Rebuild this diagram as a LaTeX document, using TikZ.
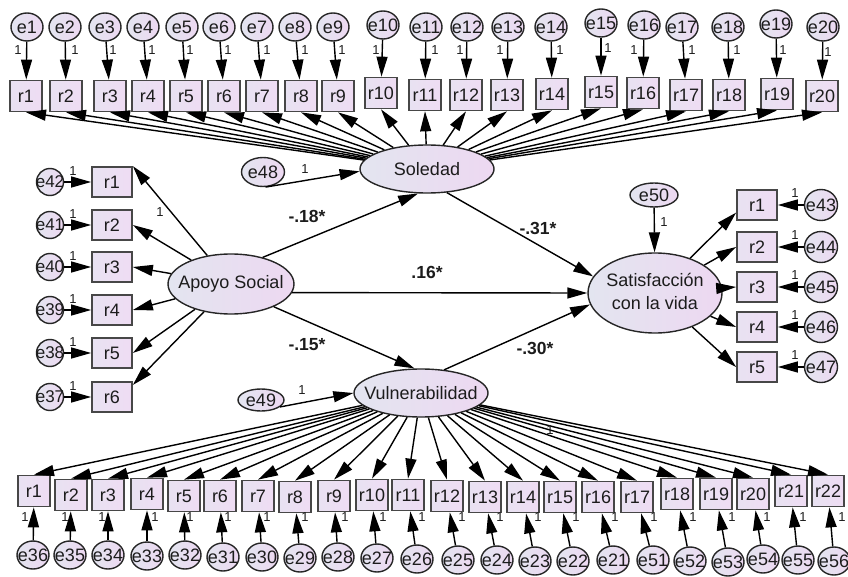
\documentclass[tikz,border=0pt]{standalone}
\usepackage{fontspec}
\setmainfont{Liberation Sans}
\usetikzlibrary{arrows.meta,shapes.geometric}
\definecolor{shL}{HTML}{E3E5F0}
\definecolor{shR}{HTML}{EDD8F1}
\definecolor{bxL}{HTML}{E8E2F2}
\definecolor{bxR}{HTML}{EFDCF3}
\definecolor{edgec}{HTML}{262626}
\definecolor{txtc}{HTML}{1C1C1C}
\begin{document}
\begin{tikzpicture}[x=1pt,y=-1pt,
  lat/.style={ellipse, draw=edgec, line width=1.4pt, left color=shL, right color=shR, inner sep=0pt, minimum width=134pt, minimum height=48pt, font=\fontsize{18}{23}\selectfont, text=txtc},
  obs/.style={rectangle, draw=edgec!85, line width=1.7pt, left color=bxL, right color=bxR, minimum width=32pt, minimum height=31pt, inner sep=0pt, font=\fontsize{18}{21}\selectfont, text=txtc},
  obsw/.style={obs, minimum width=40pt, minimum height=30pt},
  err/.style={ellipse, draw=edgec, line width=1.4pt, left color=shL, right color=shR, minimum width=32pt, minimum height=28pt, inner sep=0pt, font=\fontsize{18}{21}\selectfont, text=txtc},
  errs/.style={err, minimum width=27pt, minimum height=27pt, font=\fontsize{17}{20}\selectfont},
  erre/.style={ellipse, draw=edgec, line width=1.4pt, left color=shL, right color=shR, inner sep=0pt, font=\fontsize{18}{21}\selectfont, text=txtc},
  pth/.style={line width=1.4pt, draw=black, -{Triangle[length=20pt,width=11pt]}},
  one/.style={font=\fontsize{13}{14}\selectfont, text=txtc, inner sep=0pt},
  coef/.style={font=\bfseries\fontsize{17.5}{20}\selectfont, text=txtc, inner sep=0pt}
]
\useasboundingbox (0,0) rectangle (848,577);

% latent variables
\node[lat] (sol) at (427,169) {\makebox[0pt]{Soledad}};
\node[lat, minimum width=126pt, minimum height=60pt] (ap) at (231,284) {\makebox[0pt]{Apoyo Social}};
\node[lat] (vul) at (421,393) {\makebox[0pt]{Vulnerabilidad}};
\node[lat, minimum height=80pt] (sat) at (655,293) {\makebox[0pt]{\begin{tabular}{@{}c@{}}Satisfacción\\con la vida\end{tabular}}};

% disturbances
\node[erre, minimum width=43pt, minimum height=29pt] (e48) at (263,172) {\makebox[0pt]{e48}};
\node[erre, minimum width=46pt, minimum height=22pt] (e49) at (261,400) {\makebox[0pt]{e49}};
\node[erre, minimum width=48pt, minimum height=24pt] (e50) at (654,195) {\makebox[0pt]{e50}};

\draw[pth] (e48.-80) -- (sol.182);
\node[one] (l48) at (305,169) {1};
\draw[pth] (e49.-20) -- (vul.west);
\node[one] (l49) at (302,390) {1};
\draw[pth] (e50) -- (sat);
\node[one] (l50) at (664,222) {1};

% structural paths
\draw[pth] (ap.40) -- (sol.250);
\node[coef] (c1) at (307,216) {-.18*};
\draw[pth] (ap.-8) -- (sat.180);
\node[coef] (c2) at (427,272) {.16*};
\draw[pth] (ap.-28) -- (vul.105);
\node[coef] (c3) at (307,345) {-.15*};
\draw[pth] (sol.-50) -- (sat.165);
\node[coef] (c4) at (538,228) {-.31*};
\draw[pth] (vul.45) -- (sat.190);
\node[coef] (c5) at (535,348) {-.30*};

% top row: Soledad indicators
\foreach \i/\x/\y/\ex/\ey/\lx/\ly in {
  1/26/96/27/27/18/50, 2/66/96/65/27/75/50, 3/110/96/105/27/113/50,
  4/148/96/143/27/152/50, 5/186/96/182/27/190/50, 6/224/96/219/27/228/50,
  7/262/96/257/27/267/50, 8/301/96/295/27/305/50, 9/338/96/333/27/342/50,
  10/381/93/383/25/376/50, 11/425/95/426/27/435/50, 12/466/95/467/27/460/50,
  13/507/95/508/27/500/50, 14/552/94/551/27/560/50, 15/601/92/601/23/608/48,
  16/643/93/644/25/634/50, 17/686/95/682/27/692/50, 18/729/95/728/27/737/50,
  19/777/94/776/24/783/50, 20/822/96/823/27/828/52}{
  \node[obs] (t\i) at (\x,\y) {r\i};
  \node[err] (te\i) at (\ex,\ey) {\makebox[0pt]{e\i}};
  \draw[pth] (te\i) -- (t\i);
  \node[one] (tl\i) at (\lx,\ly) {1};
  \draw[pth] (sol) -- (t\i.south);
}

% left: Apoyo Social indicators
\foreach \i/\y/\en in {1/182/42, 2/225/41, 3/267/40, 4/310/39, 5/353/38, 6/397/37}{
  \node[obsw] (a\i) at (112,\y) {r\i};
  \node[errs] (ae\i) at (50,\y) {\makebox[0pt]{e\en}};
  \draw[pth] (ae\i) -- (a\i);
  \node[one] (al\i) at (73,\y-11) {1};
}
\draw[pth] (ap) -- (a1.north east);
\draw[pth] (ap) -- (a2.east);
\draw[pth] (ap) -- (a3.east);
\draw[pth] (ap) -- (a4.east);
\draw[pth] (ap) -- (a5.east);
\draw[pth] (ap) -- (a6.30);
\node[one] (la1) at (160,212) {1};

% right: Satisfaccion indicators
\foreach \i/\y/\en in {1/205/43, 2/247/44, 3/287/45, 4/327/46, 5/367/47}{
  \node[obsw] (s\i) at (757,\y) {r\i};
  \node[err, minimum width=33pt, minimum height=31pt] (se\i) at (821,\y) {\makebox[0pt]{e\en}};
  \draw[pth] (se\i) -- (s\i);
  \node[one] (sl\i) at (795,\y-12) {1};
}
\draw[pth] (sat) -- (s1.200);
\draw[pth] (sat) -- (s2.west);
\draw[pth] (sat) -- (s3.west);
\draw[pth] (sat) -- (s4.west);
\draw[pth] (sat) -- (s5.west);

% bottom row: Vulnerabilidad indicators
\foreach \i/\x/\y/\ex/\ey/\en/\lx in {
  1/34/491/33/555/36/25, 2/71/495/70/555/35/65, 3/108/495/108/555/34/102,
  4/147/494/147/556/33/155, 5/184/496/185/555/32/190, 6/220/496/223/557/31/228,
  7/258/496/262/557/30/267, 8/295/497/300/558/29/305, 9/334/496/338/557/28/345,
  10/372/495/377/558/27/383, 11/408/495/417/559/26/422, 12/447/496/458/560/25/462,
  13/485/497/497/560/24/500, 14/523/497/535/561/23/538, 15/560/497/573/561/22/576,
  16/598/497/613/560/21/615, 17/637/497/653/560/51/654, 18/677/494/690/561/52/693,
  19/716/494/728/562/53/732, 20/753/494/763/559/54/767, 21/791/491/798/560/55/803,
  22/828/491/834/561/56/842}{
  \node[obs] (b\i) at (\x,\y) {r\i};
  \node[err] (be\i) at (\ex,\ey) {\makebox[0pt]{e\en}};
  \draw[pth] (be\i) -- (b\i);
  \node[one] (bl\i) at (\lx,517) {1};
  \draw[pth] (vul) -- (b\i.north);
}
\node[one] (lv) at (550,430) {1};
\end{tikzpicture}
\end{document}
